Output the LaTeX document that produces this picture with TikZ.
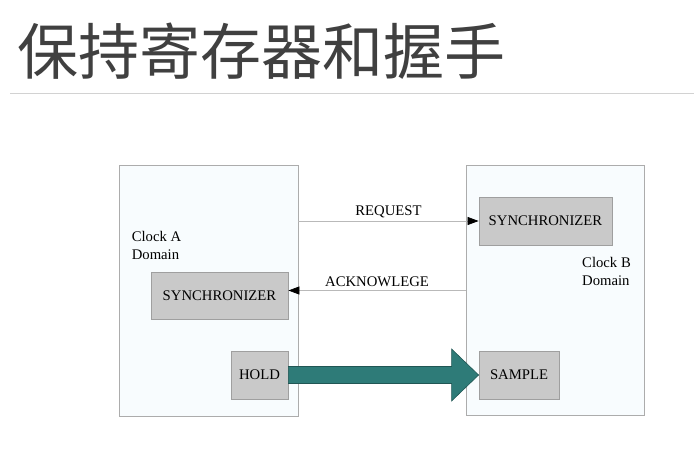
\documentclass[tikz,border=0pt]{standalone}
\usepackage{fontspec}
\setmainfont{Liberation Serif}
\newfontfamily\cjk{Noto Sans CJK SC}
\usetikzlibrary{positioning,calc,arrows.meta}
\definecolor{domfill}{HTML}{F8FCFE}
\definecolor{boxfill}{HTML}{C9C9C9}
\definecolor{busteal}{HTML}{2E7B78}
\tikzset{sig edge/.style={draw=gray!55,line width=0.7pt,-{Triangle[length=11pt,width=8pt,black]}},
 sig label/.style={midway,above=2pt,inner sep=1pt}}

\begin{document}
\begin{tikzpicture}[x=1pt,y=-1pt,font=\fontsize{14.7}{18}\selectfont,
 dom/.style={draw=gray!65,fill=domfill,line width=0.8pt},
 unit/.style={draw=gray!75,fill=boxfill,line width=0.8pt,minimum height=48pt}]
\useasboundingbox (0,0) rectangle (694,474);

\node[anchor=west,inner sep=0,text=black!75,font=\cjk\fontsize{61}{61}\selectfont] (TTL) at (17,51) {保持寄存器和握手};
\draw[gray!35,line width=1pt] (10,93) -- (694,93);

\node[dom,minimum width=179pt,minimum height=251pt] (CLKA) at (208.5,290.5) {};
\node[dom,minimum width=178pt,minimum height=250pt] (CLKB) at (555,290.5) {};

\node[unit,minimum width=137pt,minimum height=47pt] (SYNA) at (219.5,295.5) {SYNCHRONIZER};
\node[unit,minimum width=57pt] (HOLD) at (259.5,375) {HOLD};
\node[unit,minimum width=133pt] (SYNB) at (545.5,221) {SYNCHRONIZER};
\node[unit,minimum width=80pt] (SMPL) at (519,375) {SAMPLE};

\node[align=left,inner sep=0] (LBLA) at (156.5,245) {Clock A\\Domain};
\node[align=left,inner sep=0] (LBLB) at (606.5,271.5) {Clock B\\Domain};

\coordinate (ACKIN) at ([yshift=5pt]SYNA.east);
\draw[sig edge] (CLKA.east |- SYNB.west) -- (SYNB.west) node[sig label] {REQUEST};
\draw[sig edge] (CLKB.west |- ACKIN) -- (ACKIN) node[sig label] {ACKNOWLEGE};

\filldraw[fill=busteal,draw=busteal!70!black,line width=0.6pt]
 ($(HOLD.east)+(0,-8.5)$) -- ($(SMPL.west)+(-27,-8.5)$) -- ($(SMPL.west)+(-27,-26)$)
 -- (SMPL.west) -- ($(SMPL.west)+(-27,26)$) -- ($(SMPL.west)+(-27,8.5)$)
 -- ($(HOLD.east)+(0,8.5)$) -- cycle;
\end{tikzpicture}
\end{document}
